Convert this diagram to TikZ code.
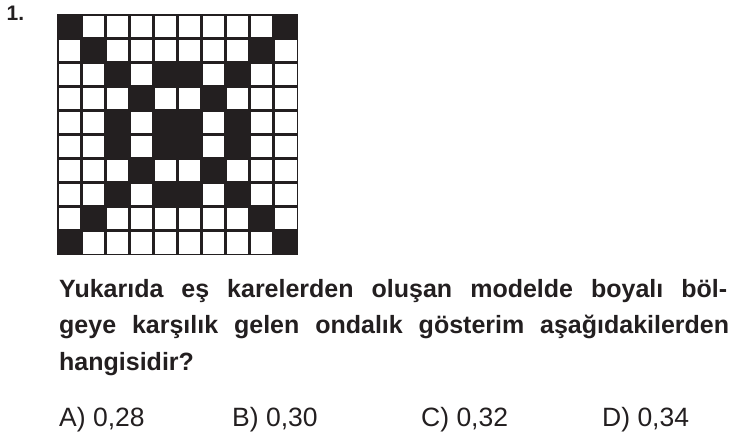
\documentclass[tikz,border=0pt]{standalone}
\usepackage{fontspec}
\setmainfont{Liberation Sans}
\definecolor{ink}{RGB}{35,31,32}
\begin{document}
\begin{tikzpicture}[x=1pt,y=-1pt,
  txt/.style={anchor=base west,inner sep=0pt,text=ink},
  qfont/.style={font=\bfseries\fontsize{25}{30}\selectfont},
  afont/.style={font=\fontsize{26.5}{30}\selectfont}]
\useasboundingbox (0,0) rectangle (732,440);
\fill[white] (0,0) rectangle (732,440);
% grid
\def\cs{24.1}
\fill[ink] (57,14) rectangle ++(241,241);
\foreach \r in {0,...,9}{
  \foreach \c in {0,...,9}{
    \fill[white] ({57+\c*\cs+1.5},{14+\r*\cs+1.5}) rectangle ++({\cs-3},{\cs-3});
  }
}
\foreach \c/\r in {0/0,9/0,1/1,8/1,2/2,4/2,5/2,7/2,3/3,6/3,2/4,4/4,5/4,7/4,2/5,4/5,5/5,7/5,3/6,6/6,2/7,4/7,5/7,7/7,1/8,8/8,0/9,9/9}{
  \fill[ink] ({57+\c*\cs},{14+\r*\cs}) rectangle ++(\cs,\cs);
}
\node[txt,font=\bfseries\fontsize{21}{24}\selectfont] (num) at (6.5,20.5) {1.};
\node[txt,qfont] (l1) at (59,297) {\makebox[668pt][s]{Yukarıda eş karelerden oluşan modelde boyalı böl-}};
\node[txt,qfont] (l2) at (59,333.5) {\makebox[670pt][s]{geye karşılık gelen ondalık gösterim aşağıdakilerden}};
\node[txt,qfont] (l3) at (59,370) {hangisidir?};
\node[txt,afont] (a) at (59,426) {A) 0,28};
\node[txt,afont] (b) at (232,426) {B) 0,30};
\node[txt,afont] (c) at (421,426) {C) 0,32};
\node[txt,afont] (d) at (602,426) {D) 0,34};
\end{tikzpicture}
\end{document}
